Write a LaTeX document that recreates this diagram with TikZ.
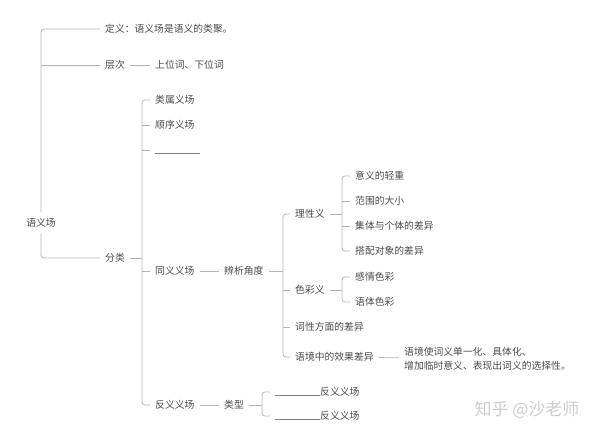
\documentclass[tikz,border=0pt]{standalone}
\usepackage{fontspec}
\setmainfont{Noto Sans CJK SC}
\usepackage{tikz}
\usetikzlibrary{calc}

\definecolor{txtgray}{HTML}{4A4A4A}
\definecolor{linegray}{HTML}{B4B4B4}
\definecolor{blankgray}{HTML}{808080}
\definecolor{markgray}{HTML}{CDCDCD}

\tikzset{
	item/.style={anchor=west, inner xsep=5pt, inner ysep=2pt, text=txtgray, font=\fontsize{9.8}{14}\selectfont},
	link/.style={draw=linegray, line width=0.8pt, rounded corners=3pt},
}
\newcommand{\blankline}{{\color{blankgray}\rule{45pt}{0.7pt}}}

\begin{document}
\begin{tikzpicture}[x=1pt,y=-1pt]
	\useasboundingbox (0,0) rectangle (600,447);
	% root and first level
	\node[item, anchor=center, inner ysep=6pt] (root) at (41,223) {语义场};
	\node[item] (def) at (100,29) {定义：语义场是语义的类聚。};
	\node[item] (cengci) at (100,65) {层次};
	\node[item] (swc) at (150,65) {上位词、下位词};
	\node[item] (fenlei) at (100,258) {分类};
	% classification
	\node[item] (leishu) at (150,100) {类属义场};
	\node[item] (shunxu) at (150,125) {顺序义场};
	\node[item] (blank) at (150,150) {\vphantom{类}\blankline};
	\node[item] (tongyi) at (150,271) {同义义场};
	\node[item] (fanyi) at (150,405) {反义义场};
	% synonyms
	\node[item] (bianxi) at (219,271) {辨析角度};
	\node[item] (lixing) at (290,214) {理性义};
	\node[item] (secai) at (290,290) {色彩义};
	\node[item] (cixing) at (290,327) {词性方面的差异};
	\node[item] (yujing) at (290,357) {语境中的效果差异};
	\node[item] (lx1) at (350,176) {意义的轻重};
	\node[item] (lx2) at (350,201) {范围的大小};
	\node[item] (lx3) at (350,226) {集体与个体的差异};
	\node[item] (lx4) at (350,251) {搭配对象的差异};
	\node[item] (sc1) at (350,277) {感情色彩};
	\node[item] (sc2) at (350,302) {语体色彩};
	\node[item, align=left] (yjdesc) at (399,359) {语境使词义单一化、具体化、\\增加临时意义、表现出词义的选择性。};
	% antonyms
	\node[item] (leixing) at (219,405) {类型};
	\node[item] (fy1) at (270,392) {\blankline 反义义场};
	\node[item] (fy2) at (270,416) {\blankline 反义义场};
	\node[anchor=west, text=markgray, font=\fontsize{17}{19}\selectfont] (mark) at (471,410) {知乎 @沙老师};

	\coordinate (flbar) at (142,258);
	\coordinate (bxbar) at (283,271);
	\coordinate (lxbar) at (342,214);
	\coordinate (scbar) at (342,290);
	\coordinate (ltbar) at (262,405);

	\draw[link] (root.north) |- (def.west);
	\draw[link] (root.south) |- (fenlei.west);
	\draw[link] (root.north |- cengci.west) -- (cengci.west);
	\draw[link] (cengci) -- (swc);
	\draw[link] (fenlei.east) -- (flbar);
	\draw[link] (leishu.west) -| (flbar) |- (fanyi.west);
	\foreach \n in {shunxu,blank,tongyi}
		\draw[link] (flbar |- \n.west) -- (\n.west);
	\draw[link] (tongyi) -- (bianxi);
	\draw[link] (bianxi.east) -- (bxbar);
	\draw[link] (lixing.west) -| (bxbar) |- (yujing.west);
	\foreach \n in {secai,cixing}
		\draw[link] (bxbar |- \n.west) -- (\n.west);
	\draw[link] (lixing.east) -- (lxbar);
	\draw[link] (lx1.west) -| (lxbar) |- (lx4.west);
	\foreach \n in {lx2,lx3}
		\draw[link] (lxbar |- \n.west) -- (\n.west);
	\draw[link] (secai.east) -- (scbar);
	\draw[link] (sc1.west) -| (scbar) |- (sc2.west);
	\draw[link] (yujing) -- (yjdesc);
	\draw[link] (fanyi) -- (leixing);
	\draw[link] (leixing.east) -- (ltbar);
	\draw[link] (fy1.west) -| (ltbar) |- (fy2.west);
\end{tikzpicture}
\end{document}
